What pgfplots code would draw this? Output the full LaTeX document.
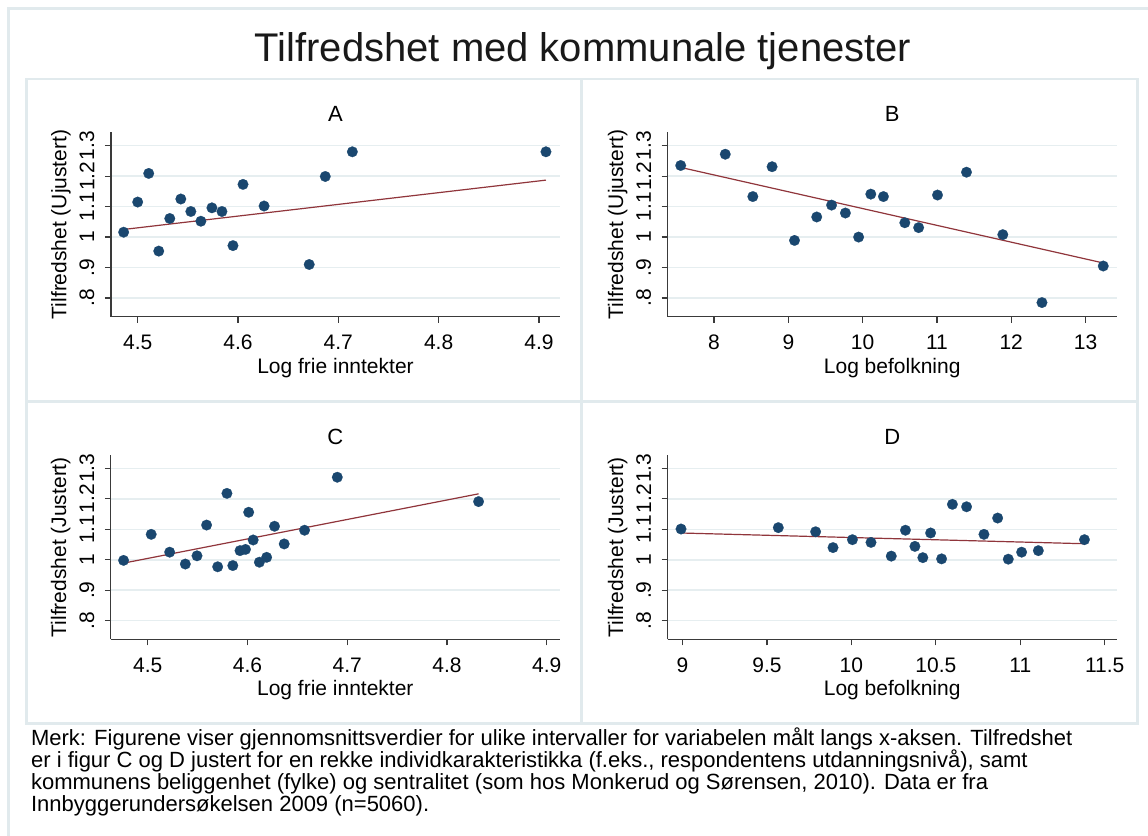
\documentclass[border=0pt]{standalone}
\usepackage{pgfplots}
\pgfplotsset{compat=1.18}
\usepackage{fontspec}
\setmainfont{Liberation Sans}
\definecolor{stblue}{HTML}{1A476F}
\definecolor{stred}{HTML}{90353B}
\definecolor{gridc}{HTML}{E6EEF0}
\definecolor{framec}{HTML}{E1EAED}
\definecolor{axc}{HTML}{3A3A3A}
\newcommand{\lab}{\fontsize{10.5pt}{10.5pt}\selectfont}
\pgfplotsset{
  panel/.style={
    scale only axis, width=224.5pt, height=92.2pt,
    anchor=north west,
    axis lines*=left,
    axis line style={axc, line width=0.65pt},
    tick align=outside,
    major tick length=3pt,
    tick style={axc, line width=0.6pt},
    ymin=0.7386, ymax=1.344,
    ytick={0.8,0.9,1,1.1,1.2,1.3},
    yticklabels={.8,.9,1,1.1,1.2,1.3},
    ymajorgrids,
    grid style={gridc, line width=0.8pt},
    yticklabel style={font=\lab, xshift=-9pt, rotate=90, anchor=center},
    xticklabel style={font=\lab, anchor=center, yshift=-9.8pt},
    xlabel style={font=\lab, at={(axis description cs:0.5,-0.276)}, anchor=center},
    ylabel style={font=\lab, at={(axis description cs:-0.1114,0.5)}, anchor=center},
    title style={font=\fontsize{11pt}{11pt}\selectfont, at={(axis description cs:0.5,1.033)}, anchor=center},
  },
  dots/.style={only marks, mark=*, mark size=2.65pt, color=stblue, mark options={fill=stblue, draw=stblue, line width=0.1pt}},
  fit/.style={no marks, stred, line width=0.6pt},
}
\begin{document}
\begin{tikzpicture}
\fill[white] (0,0) rectangle (574pt,418pt);
\path[use as bounding box] (0,0) rectangle (574pt,418pt);
% outer frame
\draw[framec, line width=1.5pt] (4pt,0) -- (4pt,413.5pt) -- (574pt,413.5pt);
% panel frames
\draw[framec, line width=1.25pt] (13.35pt,56.35pt) rectangle (568.85pt,378.5pt);
\draw[framec, line width=1.25pt] (290.75pt,56.35pt) -- (290.75pt,378.5pt);
\draw[framec, line width=1.25pt] (13.35pt,217.15pt) -- (568.85pt,217.15pt);
% main title
\node[anchor=base, font=\fontsize{20pt}{20pt}\selectfont, text=black!90] at (291.5pt,387pt) {Tilfredshet med kommunale tjenester};

% Panel A
\begin{axis}[panel, at={(55.5pt,351.85pt)},
  xmin=4.4734, xmax=4.921,
  xtick={4.5,4.6,4.7,4.8,4.9}, xticklabels={4.5,4.6,4.7,4.8,4.9},
  title={A}, xlabel={Log frie inntekter}, ylabel={Tilfredshet (Ujustert)}]
\addplot[dots] coordinates {
(4.486,1.016) (4.500,1.115) (4.511,1.209) (4.521,0.954) (4.532,1.061)
(4.543,1.125) (4.553,1.084) (4.563,1.052) (4.574,1.096) (4.584,1.084)
(4.595,0.972) (4.605,1.173) (4.626,1.102) (4.671,0.910) (4.687,1.199)
(4.714,1.280) (4.907,1.280)};
\addplot[fit] coordinates {(4.486,1.025) (4.907,1.187)};
\end{axis}

% Panel B
\begin{axis}[panel, at={(333.85pt,351.85pt)},
  xmin=7.376, xmax=13.42,
  xtick={8,9,10,11,12,13}, xticklabels={8,9,10,11,12,13},
  title={B}, xlabel={Log befolkning}, ylabel={Tilfredshet (Ujustert)}]
\addplot[dots] coordinates {
(7.551,1.235) (8.151,1.272) (8.522,1.133) (8.781,1.231) (9.083,0.989)
(9.382,1.066) (9.582,1.105) (9.768,1.079) (9.946,1.000) (10.11,1.141)
(10.28,1.133) (10.568,1.047) (10.754,1.031) (11.008,1.138) (11.398,1.213)
(11.887,1.008) (12.414,0.785) (13.239,0.905)};
\addplot[fit] coordinates {(7.551,1.2287) (13.239,0.915)};
\end{axis}

% Panel C
\begin{axis}[panel, at={(55.4pt,190.5pt)},
  xmin=4.463, xmax=4.913,
  xtick={4.5,4.6,4.7,4.8,4.9}, xticklabels={4.5,4.6,4.7,4.8,4.9},
  title={C}, xlabel={Log frie inntekter}, ylabel={Tilfredshet (Justert)}]
\addplot[dots] coordinates {
(4.4758,0.998) (4.5035,1.0835) (4.522,1.025) (4.5377,0.986) (4.5494,1.013)
(4.559,1.114) (4.5701,0.977) (4.5794,1.218) (4.5853,0.981) (4.5925,1.030)
(4.598,1.034) (4.6012,1.156) (4.6057,1.065) (4.6119,0.992) (4.6192,1.008)
(4.6271,1.110) (4.6368,1.052) (4.6572,1.097) (4.690,1.271) (4.8316,1.191)};
\addplot[fit] coordinates {(4.4758,0.989) (4.8316,1.2165)};
\end{axis}

% Panel D
\begin{axis}[panel, at={(333.85pt,190.5pt)},
  xmin=8.912, xmax=11.571,
  xtick={9,9.5,10,10.5,11,11.5}, xticklabels={9,9.5,10,10.5,11,11.5},
  title={D}, xlabel={Log befolkning}, ylabel={Tilfredshet (Justert)}]
\addplot[dots] coordinates {
(8.991,1.101) (9.567,1.1055) (9.788,1.092) (9.891,1.040) (10.006,1.066)
(10.116,1.057) (10.236,1.012) (10.32,1.097) (10.376,1.044) (10.423,1.007)
(10.469,1.088) (10.534,1.003) (10.598,1.182) (10.682,1.174) (10.785,1.0835)
(10.866,1.137) (10.929,1.002) (11.008,1.025) (11.107,1.030) (11.38,1.066)};
\addplot[fit] coordinates {(8.991,1.0879) (11.38,1.0527)};
\end{axis}

% note
\begin{scope}[every node/.style={anchor=base west, inner sep=0pt, font=\fontsize{11pt}{11pt}\selectfont}]
\node at (15.35pt,45pt) {Merk: Figurene viser gjennomsnittsverdier for ulike intervaller for variabelen målt langs x-aksen. Tilfredshet};
\node at (15.35pt,34pt) {er i figur C og D justert for en rekke individkarakteristikka (f.eks., respondentens utdanningsnivå), samt};
\node at (15.35pt,23pt) {kommunens beliggenhet (fylke) og sentralitet (som hos Monkerud og Sørensen, 2010). Data er fra};
\node at (15.35pt,12pt) {Innbyggerundersøkelsen 2009 (n=5060).};
\end{scope}
\end{tikzpicture}
\end{document}
